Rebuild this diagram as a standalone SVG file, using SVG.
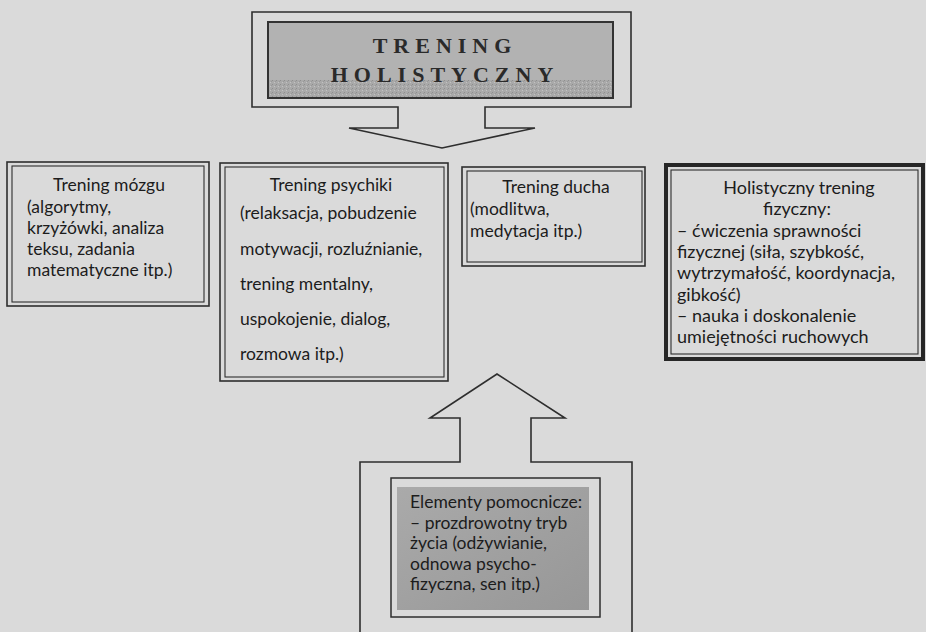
<svg xmlns="http://www.w3.org/2000/svg" width="926" height="632" viewBox="0 0 926 632">
<style>
.bg{fill:#dadada}
.ln{fill:none;stroke:#2e2e2e;stroke-width:1.6}
.thin{fill:none;stroke:#2e2e2e;stroke-width:1.1}
.arr{fill:#dadada;stroke:#2e2e2e;stroke-width:1.6;stroke-linejoin:miter}
.t{font-family:Lato,"Open Sans","DejaVu Sans",sans-serif;font-size:17.5px;fill:#1c1c1c}
.big{font-size:18px}
.c{text-anchor:middle}
.title{font-family:"Liberation Serif","Times New Roman",serif;font-size:22px;font-weight:bold;letter-spacing:6px;fill:#2a2a2a;text-anchor:middle}
</style>
<defs>
<pattern id="grain" width="4" height="4" patternUnits="userSpaceOnUse">
<rect width="4" height="4" fill="#a9a9a9"/>
<rect x="0" y="0" width="1" height="1" fill="#8f8f8f"/>
<rect x="2" y="2" width="1" height="1" fill="#c2c2c2"/>
<rect x="3" y="1" width="1" height="1" fill="#999"/>
</pattern>
<linearGradient id="gfill" x1="0" y1="0" x2="1" y2="1">
<stop offset="0" stop-color="#aaaaaa"/>
<stop offset="1" stop-color="#979797"/>
</linearGradient>
</defs>
<rect class="bg" x="0" y="0" width="926" height="632"/>

<g id="connectors">
<path class="arr" d="M252,12 H631 V107 H485 V128 H535 L442,148 L349,128 H398 V107 H252 Z"/>
<path class="arr" d="M360,633 V462 H460 V418 H430 L497,374 L565,418 H531 V462 H632 V633"/>
</g>

<g id="title">
<rect x="268" y="22" width="345" height="76" fill="#b2b2b2" stroke="#333" stroke-width="2"/>
<rect x="269" y="80" width="343" height="17" fill="url(#grain)"/>
<text class="title" x="445" y="53">TRENING</text>
<text class="title" x="445" y="82">HOLISTYCZNY</text>
</g>

<g id="trening-mozgu">
<rect class="ln" x="7" y="162" width="202" height="144"/>
<rect class="thin" x="12" y="166" width="192" height="136"/>
<text class="t c" x="109" y="191">Trening mózgu</text>
<text class="t" x="27" y="213">(algorytmy,</text>
<text class="t" x="27" y="234">krzyżówki, analiza</text>
<text class="t" x="27" y="255">teksu, zadania</text>
<text class="t" x="27" y="276">matematyczne itp.)</text>
</g>

<g id="trening-psychiki">
<rect class="ln" x="220" y="163" width="228" height="218"/>
<rect class="thin" x="225" y="167" width="219" height="210"/>
<text class="t c" x="331" y="191">Trening psychiki</text>
<text class="t" x="240" y="219">(relaksacja, pobudzenie</text>
<text class="t" x="240" y="255">motywacji, rozluźnianie,</text>
<text class="t" x="240" y="290">trening mentalny,</text>
<text class="t" x="240" y="325">uspokojenie, dialog,</text>
<text class="t" x="240" y="360">rozmowa itp.)</text>
</g>

<g id="trening-ducha">
<rect class="ln" x="462" y="167" width="183" height="99"/>
<rect class="thin" x="467" y="171" width="175" height="91"/>
<text class="t c" x="556" y="193">Trening ducha</text>
<text class="t" x="470" y="215">(modlitwa,</text>
<text class="t" x="470" y="237">medytacja itp.)</text>
</g>

<g id="holistyczny-trening-fizyczny">
<rect x="666" y="165" width="257" height="194" fill="none" stroke="#262626" stroke-width="4"/>
<rect class="thin" x="671" y="170" width="247" height="184"/>
<text class="t big c" x="799" y="194">Holistyczny trening</text>
<text class="t big c" x="797" y="215">fizyczny:</text>
<text class="t big" x="677" y="236.5">– ćwiczenia sprawności</text>
<text class="t big" x="677" y="258">fizycznej (siła, szybkość,</text>
<text class="t big" x="677" y="279">wytrzymałość, koordynacja,</text>
<text class="t big" x="677" y="300.5">gibkość)</text>
<text class="t big" x="677" y="322">– nauka i doskonalenie</text>
<text class="t big" x="677" y="343">umiejętności ruchowych</text>
</g>

<g id="elementy-pomocnicze">
<rect x="391" y="478" width="209" height="139" fill="#dadada" stroke="#2e2e2e" stroke-width="1.5"/>
<rect x="397" y="487" width="192" height="123" fill="url(#gfill)"/>
<text class="t" x="410" y="508">Elementy pomocnicze:</text>
<text class="t" x="410" y="529">– prozdrowotny tryb</text>
<text class="t" x="410" y="549">życia (odżywianie,</text>
<text class="t" x="410" y="570">odnowa psycho-</text>
<text class="t" x="410" y="590">fizyczna, sen itp.)</text>
</g>
</svg>
